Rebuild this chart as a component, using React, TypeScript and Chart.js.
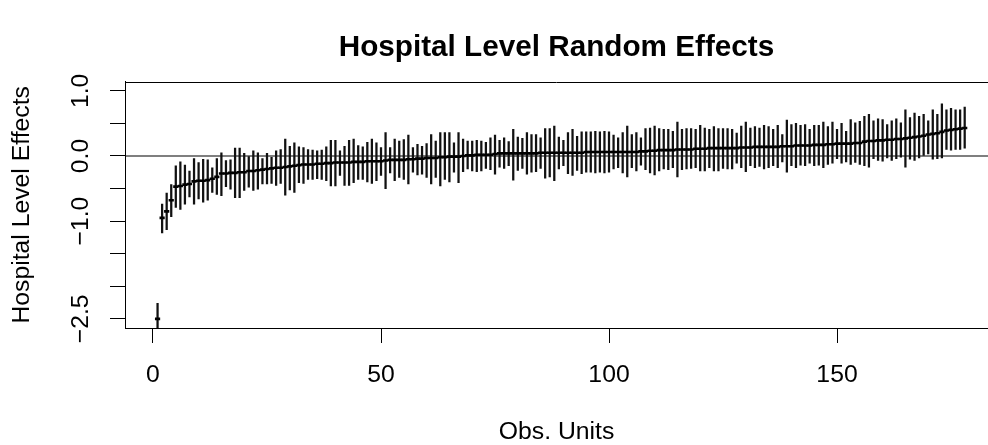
import React, { useEffect, useRef } from "react";
import { Chart, registerables } from "chart.js";

Chart.register(...registerables);

// ---------- data ----------
const units: number[] = Array.from({ length: 178 }, (_, i) => i + 1);

const centers: number[] = [
  -2.50, -0.95, -0.85, -0.68, -0.47, -0.46, -0.44, -0.43, -0.39, -0.38,
  -0.38, -0.37, -0.35, -0.32, -0.27, -0.27, -0.26, -0.26, -0.25, -0.25,
  -0.23, -0.23, -0.22, -0.21, -0.20, -0.19, -0.18, -0.18, -0.17, -0.16,
  -0.15, -0.14, -0.13, -0.13, -0.13, -0.12, -0.12, -0.11, -0.11, -0.10,
  -0.10, -0.10, -0.10, -0.09, -0.09, -0.09, -0.08, -0.08, -0.08, -0.08,
  -0.07, -0.06, -0.06, -0.06, -0.06, -0.05, -0.05, -0.04, -0.04, -0.03,
  -0.03, -0.03, -0.02, -0.02, -0.01, -0.01, -0.01, 0.00, 0.01, 0.01,
  0.02, 0.02, 0.02, 0.02, 0.03, 0.04, 0.04, 0.04, 0.04, 0.04,
  0.04, 0.04, 0.04, 0.04, 0.05, 0.05, 0.05, 0.05, 0.05, 0.05,
  0.05, 0.05, 0.05, 0.05, 0.06, 0.06, 0.06, 0.06, 0.06, 0.06,
  0.06, 0.06, 0.06, 0.06, 0.06, 0.06, 0.07, 0.07, 0.08, 0.08,
  0.09, 0.09, 0.09, 0.09, 0.10, 0.10, 0.10, 0.10, 0.11, 0.11,
  0.11, 0.12, 0.12, 0.12, 0.12, 0.12, 0.12, 0.12, 0.13, 0.13,
  0.13, 0.14, 0.14, 0.14, 0.14, 0.14, 0.14, 0.15, 0.15, 0.15,
  0.16, 0.16, 0.16, 0.16, 0.17, 0.17, 0.17, 0.18, 0.18, 0.19,
  0.19, 0.19, 0.19, 0.20, 0.20, 0.22, 0.23, 0.23, 0.24, 0.24,
  0.25, 0.25, 0.26, 0.26, 0.27, 0.28, 0.29, 0.30, 0.31, 0.33,
  0.34, 0.35, 0.37, 0.39, 0.40, 0.41, 0.42, 0.43,
];

const lower: number[] = [
  -2.75, -1.18, -1.13, -0.93, -0.79, -0.82, -0.74, -0.63, -0.74, -0.66,
  -0.71, -0.68, -0.56, -0.59, -0.61, -0.47, -0.51, -0.64, -0.64, -0.53,
  -0.48, -0.53, -0.51, -0.43, -0.43, -0.42, -0.45, -0.42, -0.60, -0.52,
  -0.56, -0.41, -0.42, -0.36, -0.36, -0.35, -0.36, -0.38, -0.46, -0.46,
  -0.30, -0.45, -0.45, -0.41, -0.36, -0.36, -0.40, -0.42, -0.38, -0.30,
  -0.50, -0.26, -0.38, -0.33, -0.36, -0.43, -0.25, -0.29, -0.28, -0.33,
  -0.43, -0.33, -0.46, -0.36, -0.40, -0.25, -0.41, -0.24, -0.20, -0.23,
  -0.24, -0.23, -0.19, -0.21, -0.28, -0.17, -0.19, -0.15, -0.37, -0.22,
  -0.19, -0.28, -0.25, -0.24, -0.19, -0.34, -0.32, -0.38, -0.20, -0.15,
  -0.27, -0.30, -0.22, -0.27, -0.25, -0.25, -0.26, -0.25, -0.26, -0.25,
  -0.20, -0.18, -0.26, -0.32, -0.18, -0.23, -0.14, -0.21, -0.26, -0.29,
  -0.23, -0.20, -0.21, -0.18, -0.32, -0.21, -0.20, -0.19, -0.18, -0.23,
  -0.23, -0.18, -0.23, -0.23, -0.19, -0.20, -0.20, -0.11, -0.18, -0.24,
  -0.15, -0.18, -0.16, -0.20, -0.18, -0.15, -0.18, -0.09, -0.25, -0.15,
  -0.18, -0.14, -0.15, -0.11, -0.15, -0.14, -0.18, -0.13, -0.11, -0.04,
  -0.11, -0.09, -0.13, -0.10, -0.13, -0.15, -0.17, -0.04, -0.07, -0.08,
  -0.03, -0.07, -0.04, -0.02, -0.17, -0.05, -0.07, -0.03, 0.00, 0.03,
  -0.05, -0.04, -0.03, 0.10, 0.09, 0.10, 0.10, 0.12,
];

const upper: number[] = [
  -2.26, -0.74, -0.57, -0.44, -0.15, -0.09, -0.14, -0.23, -0.04, -0.10,
  -0.05, -0.06, -0.18, -0.04, 0.05, -0.07, -0.06, 0.12, 0.12, 0.04,
  -0.01, 0.08, 0.05, -0.04, 0.04, -0.02, 0.08, 0.10, 0.26, 0.15,
  0.20, 0.14, 0.13, 0.10, 0.09, 0.08, 0.09, 0.14, 0.24, 0.24,
  0.08, 0.15, 0.24, 0.26, 0.16, 0.14, 0.21, 0.26, 0.20, 0.13,
  0.36, 0.13, 0.26, 0.23, 0.25, 0.32, 0.13, 0.18, 0.15, 0.19,
  0.33, 0.23, 0.36, 0.36, 0.36, 0.20, 0.36, 0.26, 0.23, 0.23,
  0.24, 0.23, 0.21, 0.28, 0.32, 0.24, 0.28, 0.22, 0.41, 0.29,
  0.27, 0.36, 0.33, 0.33, 0.28, 0.42, 0.42, 0.46, 0.29, 0.24,
  0.36, 0.41, 0.30, 0.37, 0.37, 0.37, 0.38, 0.37, 0.38, 0.37,
  0.32, 0.28, 0.36, 0.46, 0.33, 0.36, 0.28, 0.42, 0.43, 0.46,
  0.42, 0.41, 0.41, 0.38, 0.52, 0.41, 0.42, 0.42, 0.41, 0.47,
  0.43, 0.41, 0.45, 0.42, 0.42, 0.42, 0.41, 0.35, 0.46, 0.52,
  0.43, 0.45, 0.43, 0.47, 0.45, 0.41, 0.47, 0.33, 0.55, 0.48,
  0.50, 0.47, 0.48, 0.41, 0.47, 0.47, 0.52, 0.45, 0.52, 0.41,
  0.50, 0.38, 0.56, 0.51, 0.53, 0.61, 0.64, 0.54, 0.57, 0.56,
  0.48, 0.54, 0.57, 0.51, 0.71, 0.59, 0.66, 0.61, 0.64, 0.54,
  0.71, 0.64, 0.80, 0.71, 0.73, 0.71, 0.71, 0.75,
];

const xTicks: number[] = [0, 50, 100, 150];
const yTicks: number[] = [-2.5, -2, -1.5, -1, -0.5, 0, 0.5, 1];
const yLabelValues: number[] = [-2.5, -1, 0, 1];
const yLabelTexts: string[] = ["\u22122.5", "\u22121.0", "0.0", "1.0"];

const titleText = "Hospital Level Random Effects";
const xTitle = "Obs. Units";
const yTitle = "Hospital Level Effects";

// ---------- layout constants ----------
const W = 988;
const H = 445;
const X_MIN = -6.14;
const X_MAX = 183.11;
const Y_MIN = -2.64;
const Y_MAX = 1.14;
const FONT = "'Liberation Sans', Arial, Helvetica, sans-serif";
const BASE = 24.75;

const framePlugin = {
  id: "rframe",
  afterDatasetsDraw(chart: any) {
    const { ctx, chartArea } = chart;
    ctx.save();
    ctx.strokeStyle = "#000";
    ctx.lineWidth = 1;
    ctx.beginPath();
    ctx.moveTo(chartArea.left, Math.round(chartArea.top) + 0.5);
    ctx.lineTo(chartArea.right, Math.round(chartArea.top) + 0.5);
    ctx.stroke();
    ctx.restore();
  },
};

export default function App() {
  const ref = useRef<HTMLCanvasElement>(null);

  useEffect(() => {
    if (!ref.current) return;
    const chart = new Chart(ref.current, {
      type: "bar",
      data: {
        datasets: [
          {
            type: "line",
            data: [
              { x: X_MIN, y: 0 },
              { x: X_MAX, y: 0 },
            ],
            borderColor: "#000",
            borderWidth: 1.2,
            pointRadius: 0,
            order: 3,
          } as any,
          {
            type: "bar",
            data: units.map((u, i) => ({ x: u, y: [lower[i], upper[i]] })),
            backgroundColor: "#111",
            borderWidth: 0,
            barThickness: 1.6,
            order: 2,
          } as any,
          {
            type: "scatter",
            data: units.map((u, i) => ({ x: u, y: centers[i] })),
            pointStyle: "line",
            pointRadius: 2.6,
            borderColor: "#000",
            backgroundColor: "#000",
            borderWidth: 2.6,
            order: 1,
          } as any,
        ],
      },
      options: {
        responsive: false,
        animation: false,
        devicePixelRatio: 1,
        layout: { padding: 0, autoPadding: false },
        events: [],
        plugins: {
          legend: { display: false },
          tooltip: { enabled: false },
          title: {
            display: true,
            text: titleText,
            fullSize: false,
            color: "#000",
            font: { family: FONT, size: BASE * 1.2, weight: "bold", lineHeight: 1 },
            padding: { top: 32.5, bottom: 19.5 },
          },
        },
        scales: {
          x: {
            type: "linear",
            position: "bottom",
            min: X_MIN,
            max: X_MAX,
            offset: false,
            afterBuildTicks: (s: any) => {
              s.ticks = xTicks.map((v) => ({ value: v }));
            },
            afterFit: (s: any) => {
              s.height = H - 328;
            },
            grid: {
              display: true,
              drawOnChartArea: false,
              drawTicks: true,
              tickLength: 15,
              color: "#000",
              lineWidth: 1,
              offset: false,
            },
            border: { display: true, color: "#000", width: 1 },
            ticks: {
              color: "#000",
              font: { family: FONT, size: BASE, lineHeight: 1 },
              padding: 19.6,
              autoSkip: false,
              minRotation: 0,
              maxRotation: 0,
              callback: (v: any) => String(v),
            },
            title: {
              display: true,
              text: xTitle,
              color: "#000",
              font: { family: FONT, size: BASE, lineHeight: 1 },
              padding: { top: 0, bottom: 0 },
            },
          },
          y: {
            type: "linear",
            position: "left",
            min: Y_MIN,
            max: Y_MAX,
            afterBuildTicks: (s: any) => {
              s.ticks = yTicks.map((v) => ({ value: v }));
            },
            afterFit: (s: any) => {
              s.width = 125;
            },
            grid: {
              display: true,
              drawOnChartArea: false,
              drawTicks: true,
              tickLength: 15,
              color: "#000",
              lineWidth: 1,
            },
            border: { display: true, color: "#000", width: 1 },
            ticks: {
              color: "#000",
              font: { family: FONT, size: BASE, lineHeight: 1 },
              padding: 3.9,
              autoSkip: false,
              minRotation: 90,
              maxRotation: 90,
              crossAlign: "center",
              callback: (v: any) => {
                const idx = yLabelValues.findIndex((t) => Math.abs(t - Number(v)) < 1e-9);
                return idx >= 0 ? yLabelTexts[idx] : "";
              },
            },
            title: {
              display: true,
              text: yTitle,
              color: "#000",
              font: { family: FONT, size: BASE, lineHeight: 1 },
              padding: { top: 10, bottom: 0 },
            },
          },
        },
      } as any,
      plugins: [framePlugin],
    });
    return () => chart.destroy();
  }, []);

  return (
    <div style={{ position: "fixed", left: 0, top: 0, width: W, height: H, background: "#fff" }}>
      <canvas ref={ref} width={W} height={H} style={{ display: "block", width: W, height: H }} />
    </div>
  );
}
